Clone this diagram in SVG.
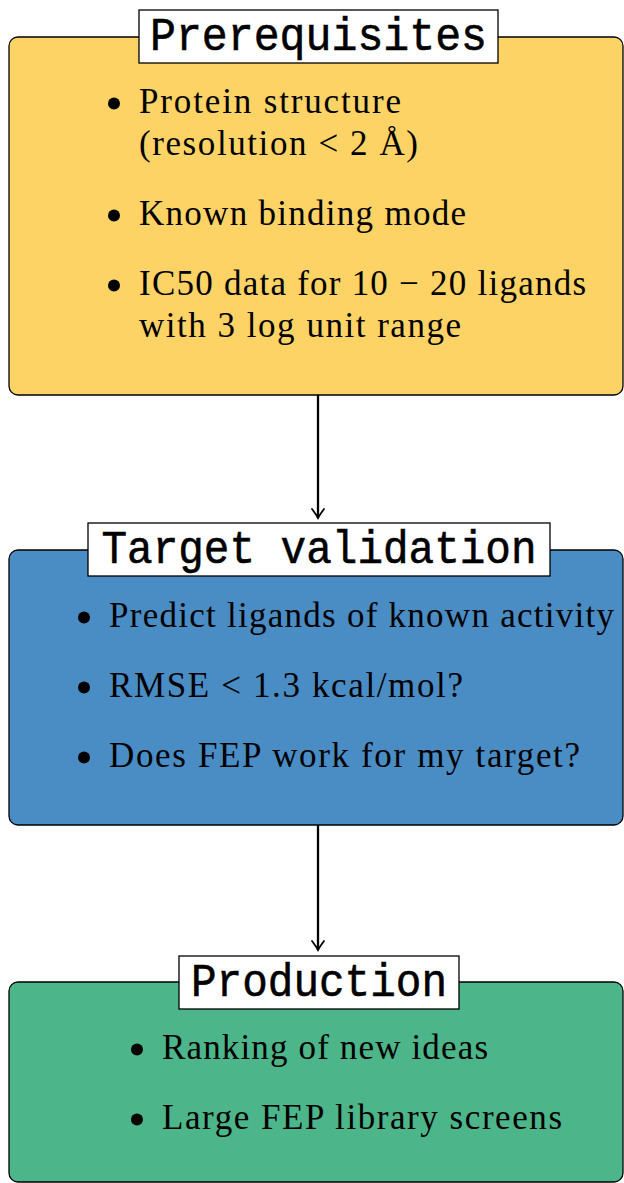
<svg xmlns="http://www.w3.org/2000/svg" width="624" height="1183" viewBox="0 0 624 1183">
  <style>
    .panel { stroke: #000; stroke-width: 1.3; }
    .yellow { fill: #FDD366; }
    .blue { fill: #4A8DC4; }
    .green { fill: #4DB58A; }
    .title-box { fill: #fff; stroke: #000; stroke-width: 1.3; }
    .title { font-family: "Liberation Mono", "DejaVu Sans Mono", monospace; font-size: 47px; fill: #000; stroke: #000; stroke-width: 0.6; text-anchor: middle; }
    .item { font-family: "Liberation Serif", "DejaVu Serif", serif; font-size: 35px; fill: #000; }
    .dot { fill: #000; }
    .link { stroke: #000; stroke-width: 2.3; fill: none; }
  </style>
  <defs>
    <!-- open "to"-style arrowhead, tip at the origin pointing along +x -->
    <marker id="arrow" viewBox="-11 -8 13 16" markerWidth="13" markerHeight="16" refX="0" refY="0" orient="auto" markerUnits="userSpaceOnUse">
      <path d="M-9,-6 Q-3,-1.6 0,0 Q-3,1.6 -9,6" stroke="#000" stroke-width="1.8" fill="none" stroke-linecap="round"/>
    </marker>
  </defs>

  <rect width="624" height="1183" fill="#fff"/>

  <!-- connectors between stages -->
  <g id="connectors">
    <line class="link" x1="318" y1="395" x2="318" y2="518" marker-end="url(#arrow)"/>
    <line class="link" x1="318" y1="825" x2="318" y2="950" marker-end="url(#arrow)"/>
  </g>

  <!-- stage 1 -->
  <g id="prerequisites">
    <rect class="panel yellow" x="9" y="37" width="614" height="358" rx="9"/>
    <rect class="title-box" x="139" y="10" width="359" height="53"/>
    <text class="title" x="318.5" y="50" textLength="337" lengthAdjust="spacingAndGlyphs">Prerequisites</text>
    <circle class="dot" cx="114" cy="103.5" r="6"/>
    <text class="item" x="139" y="113" textLength="262">Protein structure</text>
    <text class="item" x="139" y="155" textLength="279">(resolution &lt; 2 Å)</text>
    <circle class="dot" cx="114" cy="215.5" r="6"/>
    <text class="item" x="139" y="225" textLength="327">Known binding mode</text>
    <circle class="dot" cx="114" cy="285.5" r="6"/>
    <text class="item" x="139" y="295" textLength="447">IC50 data for 10 − 20 ligands</text>
    <text class="item" x="139" y="337" textLength="322">with 3 log unit range</text>
  </g>

  <!-- stage 2 -->
  <g id="target-validation">
    <rect class="panel blue" x="9" y="550" width="614" height="275" rx="9"/>
    <rect class="title-box" x="88" y="523" width="462" height="53"/>
    <text class="title" x="319" y="563" textLength="435" lengthAdjust="spacingAndGlyphs">Target validation</text>
    <circle class="dot" cx="84" cy="617.5" r="6"/>
    <text class="item" x="109" y="627" textLength="505">Predict ligands of known activity</text>
    <circle class="dot" cx="84" cy="687.5" r="6"/>
    <text class="item" x="109" y="697" textLength="354">RMSE &lt; 1.3 kcal/mol?</text>
    <circle class="dot" cx="84" cy="757.5" r="6"/>
    <text class="item" x="109" y="767" textLength="471">Does FEP work for my target?</text>
  </g>

  <!-- stage 3 -->
  <g id="production">
    <rect class="panel green" x="9" y="982" width="614" height="200" rx="9"/>
    <rect class="title-box" x="179" y="956" width="280" height="53"/>
    <text class="title" x="319" y="996" textLength="256" lengthAdjust="spacingAndGlyphs">Production</text>
    <circle class="dot" cx="137" cy="1049.5" r="6"/>
    <text class="item" x="162" y="1059" textLength="326">Ranking of new ideas</text>
    <circle class="dot" cx="137" cy="1119.5" r="6"/>
    <text class="item" x="162" y="1129" textLength="400">Large FEP library screens</text>
  </g>
</svg>
